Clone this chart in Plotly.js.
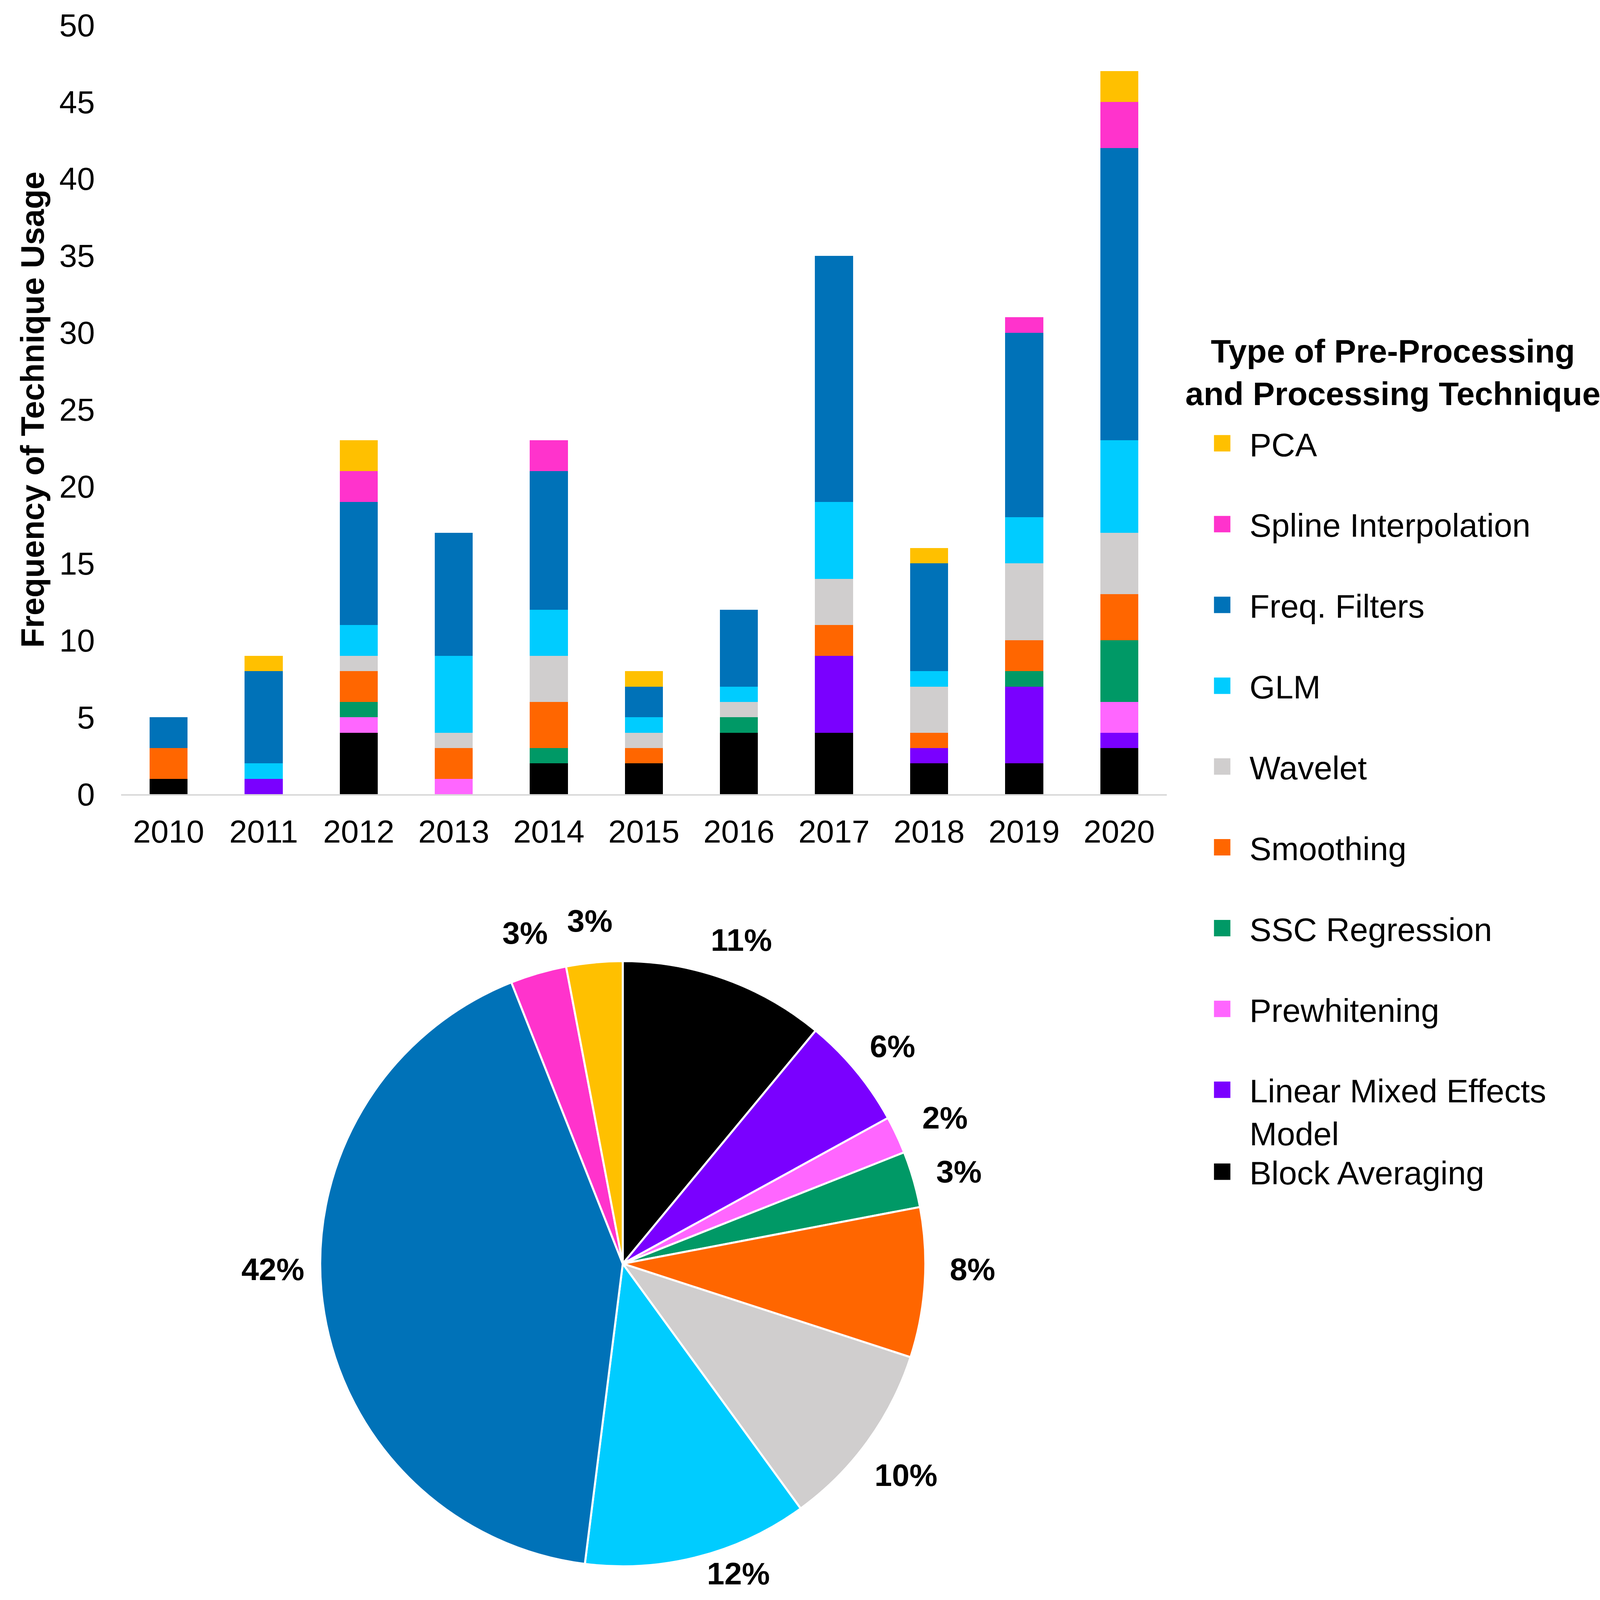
<!DOCTYPE html>
<html>
<head>
<meta charset="utf-8">
<script src="https://cdn.plot.ly/plotly-3.0.1.min.js"></script>
<style>
  html, body { margin: 0; padding: 0; background: #ffffff; }
  #wrap { width: 4135px; height: 4130px; overflow: hidden; position: relative; background: #ffffff; }
  #chart { transform: scale(3.5); transform-origin: 0 0; width: 1181.4px; height: 1210px; }
</style>
</head>
<body>
<div id="wrap"><div id="chart"></div></div>
<script>
// ---- data ----
const years = ['2010','2011','2012','2013','2014','2015','2016','2017','2018','2019','2020'];
const blockAveraging = [1,0,4,0,2,2,4,4,2,2,3];
const linearMixed    = [0,1,0,0,0,0,0,5,1,5,1];
const prewhitening   = [0,0,1,1,0,0,0,0,0,0,2];
const sscRegression  = [0,0,1,0,1,0,1,0,0,1,4];
const smoothing      = [2,0,2,2,3,1,0,2,1,2,3];
const wavelet        = [0,0,1,1,3,1,1,3,3,5,4];
const glm            = [0,1,2,5,3,1,1,5,1,3,6];
const freqFilters    = [2,6,8,8,9,2,5,16,7,12,19];
const spline         = [0,0,2,0,2,0,0,0,0,1,3];
const pca            = [0,1,2,0,0,1,0,0,1,0,2];

const techniqueNames = ['Block Averaging','Linear Mixed Effects<br>Model','Prewhitening','SSC Regression',
  'Smoothing','Wavelet','GLM','Freq. Filters','Spline Interpolation','PCA'];
const pieLabels = ['Block Averaging','Linear Mixed Effects Model','Prewhitening','SSC Regression',
  'Smoothing','Wavelet','GLM','Freq. Filters','Spline Interpolation','PCA'];
const pieShares = [11,6,2,3,8,10,12,42,3,3];
const yTicks = [0,5,10,15,20,25,30,35,40,45,50];
const legendTitle = 'Type of Pre-Processing<br>and Processing Technique';
const yTitle = 'Frequency of Technique Usage';

const colors = ['#000000','#7A00FF','#FF66FF','#009966','#FF6600','#D0CECE','#00CCFF','#0072B8','#FF33CC','#FFC000'];
const seriesValues = [blockAveraging, linearMixed, prewhitening, sscRegression, smoothing, wavelet, glm, freqFilters, spline, pca];

const FONT = 'Liberation Sans, Arial, sans-serif';
const FS = 23.4;
const LFS = 24;
const PFS = 23;
const W = 1181.4, H = 1210;

const traces = seriesValues.map((vals, i) => ({
  type: 'bar',
  name: techniqueNames[i],
  x: years,
  y: vals,
  marker: { color: colors[i], line: { width: 0 } },
  legendgroup: 'g' + i,
  legendrank: 100 - i,
  legend: i === 0 ? 'legend2' : 'legend',
  hoverinfo: 'skip'
}));

// label of the slice that straddles the bottom is drawn just outside the pie itself
const bottomSlice = 'GLM';
const pieFont = { family: FONT, size: PFS, color: '#000000', weight: 'bold' };

// the pie itself
traces.push({
  type: 'pie',
  labels: pieLabels,
  values: pieShares,
  sort: false,
  direction: 'clockwise',
  rotation: 0,
  marker: { colors: colors, line: { color: '#ffffff', width: 1.5 } },
  texttemplate: '%{value}%',
  textposition: pieLabels.map(l => l === bottomSlice ? 'outside' : 'none'),
  textfont: pieFont,
  outsidetextfont: pieFont,
  showlegend: false,
  domain: { x: [0.1983, 0.5731], y: [0.0531, 0.4191] },
  hoverinfo: 'skip'
});

// transparent ring carrying the other percentage labels a little outside the pie
traces.push({
  type: 'pie',
  labels: pieLabels,
  values: pieShares,
  sort: false,
  direction: 'clockwise',
  rotation: 0,
  hole: 0.85,
  marker: { colors: pieLabels.map(() => 'rgba(0,0,0,0)'), line: { width: 0 } },
  textposition: pieLabels.map(l => l === bottomSlice ? 'none' : 'inside'),
  insidetextorientation: 'horizontal',
  texttemplate: '%{value}%',
  textfont: pieFont,
  insidetextfont: pieFont,
  showlegend: false,
  domain: { x: [0.1513, 0.6201], y: [0.0040, 0.4616] },
  hoverinfo: 'skip'
});

const legendCommon = {
  font: { family: FONT, size: LFS, color: '#000000' },
  bgcolor: 'rgba(0,0,0,0)',
  borderwidth: 0,
  tracegroupgap: 24.9,
  valign: 'top',
  traceorder: 'grouped',
  xanchor: 'left',
  x: 0.740
};

const layout = {
  width: W,
  height: H,
  margin: { l: 0, r: 0, t: 0, b: 0 },
  paper_bgcolor: '#ffffff',
  plot_bgcolor: '#ffffff',
  font: { family: FONT, size: FS, color: '#000000' },
  barmode: 'stack',
  bargap: 0.6,
  showlegend: true,
  uniformtext: { mode: 'show', minsize: PFS },
  xaxis: {
    type: 'category',
    domain: [0.0750, 0.7226],
    showgrid: false,
    showline: true,
    linecolor: '#D9D9D9',
    linewidth: 1.2,
    ticks: '',
    ticklabelstandoff: 6,
    tickfont: { family: FONT, size: FS, color: '#000000' },
    zeroline: false
  },
  yaxis: {
    domain: [0.5199, 0.9849],
    range: [0, 50],
    tickvals: yTicks,
    showgrid: false,
    showline: false,
    zeroline: false,
    ticks: 'outside',
    ticklen: 13.5,
    tickcolor: 'rgba(0,0,0,0)',
    tickfont: { family: FONT, size: FS, color: '#000000' },
    title: { text: yTitle, font: { family: FONT, size: 23.6, color: '#000000', weight: 'bold' }, standoff: 3.5 }
  },
  legend: Object.assign({}, legendCommon, {
    y: 0.7503,
    yanchor: 'top'
  }),
  legend2: Object.assign({}, legendCommon, {
    y: 0.2914,
    yanchor: 'middle'
  }),
  annotations: [{
    text: legendTitle,
    xref: 'paper', yref: 'paper',
    x: 0.8629, y: 0.7750,
    xanchor: 'center', yanchor: 'middle',
    align: 'center',
    showarrow: false,
    font: { family: FONT, size: LFS, color: '#000000', weight: 'bold' }
  }]
};

Plotly.newPlot('chart', traces, layout, { displayModeBar: false, staticPlot: true });
</script>
</body>
</html>
